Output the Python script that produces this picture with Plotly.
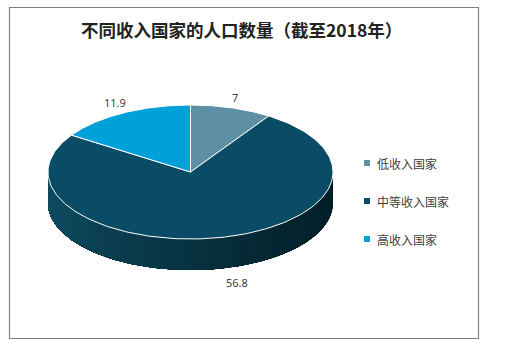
import numpy as np
import plotly.graph_objects as go

# Population by country income group, as labelled on the chart
categories = ["低收入国家", "中等收入国家", "高收入国家"]
population = [7, 56.8, 11.9]
title_text = "不同收入国家的人口数量（截至2018年）"

# Styling
top_colors = ["#5D8FA5", "#0A4C65", "#00A0D8"]
side_left_rgb = np.array([14, 76, 98])
side_right_rgb = np.array([2, 31, 40])
label_color = "#404040"

# Pie geometry in pixel units (axes are mapped 1:1 to the page)
W, H = 521, 350
CX, CY, RX, RY, DEPTH = 190.5, 172.0, 142.5, 67.0, 31.0
# per-label nudges (same order as categories)
label_offsets = [(4, -10), (18, 14), (-8, -11)]


def rim(t_deg, dy=0.0):
    t = np.radians(t_deg)
    return CX + RX * np.sin(t), CY - RY * np.cos(t) + dy


def side_colour(x):
    f = np.clip((x - (CX - RX)) / (2 * RX), 0, 1)
    rgb = side_left_rgb + (side_right_rgb - side_left_rgb) * (f ** 0.8)
    return "rgb(%d,%d,%d)" % tuple(rgb.round().astype(int))


total = float(sum(population))
bounds = np.concatenate([[0.0], np.cumsum(population) / total * 360.0])

fig = go.Figure()

# Side wall (front half of the disc). Shading is built from nested layers:
# each layer covers from its start angle to the slice's left end, so the
# layers overlap without seams and the wall lightens towards the left.
for i in range(len(population)):
    a0, a1 = max(bounds[i], 90.0), min(bounds[i + 1], 270.0)
    if a1 <= a0:
        continue
    for s in np.linspace(a0, a1, 90)[:-1]:
        ts = np.linspace(s, a1, max(4, int((a1 - s) * 2)))
        xt, yt = rim(ts)
        xb, yb = rim(ts[::-1], DEPTH)
        col = side_colour(float(rim(s)[0]))
        fig.add_trace(go.Scatter(
            x=np.concatenate([xt, xb]), y=np.concatenate([yt, yb]),
            fill="toself", fillcolor=col, mode="lines",
            line=dict(width=0), hoverinfo="skip", showlegend=False))

# Top faces of the slices
for i, (cat, val) in enumerate(zip(categories, population)):
    ts = np.linspace(bounds[i], bounds[i + 1], 200)
    xs, ys = rim(ts)
    fig.add_trace(go.Scatter(
        x=np.concatenate([[CX], xs, [CX]]), y=np.concatenate([[CY], ys, [CY]]),
        fill="toself", fillcolor=top_colors[i], mode="lines",
        line=dict(color="white", width=1), name=cat,
        hovertemplate=f"{cat}: {val}<extra></extra>", showlegend=False))

# Value labels just outside each slice
for i, val in enumerate(population):
    mid = (bounds[i] + bounds[i + 1]) / 2.0
    x, y = rim(mid)
    if np.cos(np.radians(mid)) < 0:
        y += DEPTH
    dx, dy = label_offsets[i]
    fig.add_annotation(x=x + dx, y=y + dy, text=f"{val:g}", showarrow=False,
                       font=dict(family="Noto Sans", size=11, color=label_color),
                       xanchor="center", yanchor="middle")

# Legend: square markers with category names
leg_x, leg_y0, leg_dy = 367, 163, 38
leg_ys = [leg_y0 + k * leg_dy for k in range(len(categories))]
fig.add_trace(go.Scatter(
    x=[leg_x] * len(categories), y=leg_ys, mode="markers",
    marker=dict(symbol="square", size=6, color=top_colors),
    hoverinfo="skip", showlegend=False))
for cat, y in zip(categories, leg_ys):
    fig.add_annotation(x=leg_x + 8, y=y, text=cat, showarrow=False,
                       xanchor="left", yanchor="middle",
                       font=dict(family="Noto Sans CJK SC", size=12, color=label_color))

# Title
fig.add_annotation(x=241, y=29, text=f"<b>{title_text}</b>", showarrow=False,
                   xanchor="center", yanchor="middle",
                   font=dict(family="Noto Sans CJK SC", size=17.5, color="#222222"))

# Chart border
fig.add_shape(type="rect", x0=9.5, y0=7.5, x1=478.5, y1=338.5,
              line=dict(color="#808080", width=1.2), fillcolor="rgba(0,0,0,0)")

fig.update_layout(
    width=W, height=H, margin=dict(l=0, r=0, t=0, b=0),
    paper_bgcolor="white", plot_bgcolor="white",
    xaxis=dict(range=[0, W], visible=False, fixedrange=True),
    yaxis=dict(range=[H, 0], visible=False, fixedrange=True),
    showlegend=False,
)

fig.write_html("out.html")
